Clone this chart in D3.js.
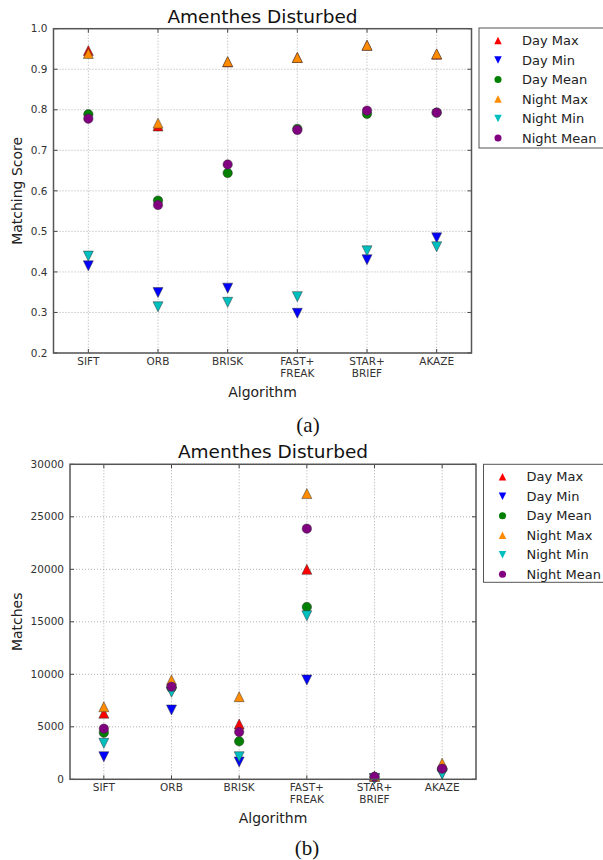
<!DOCTYPE html>
<html>
<head>
<meta charset="utf-8">
<script src="https://cdn.jsdelivr.net/npm/d3@7"></script>
<style>
  html, body { margin: 0; padding: 0; background: #fff; }
  svg { display: block; font-family: "DejaVu Sans", sans-serif; }
</style>
</head>
<body>
<svg id="chart" width="603" height="860"></svg>
<script>
// Feature detector / descriptor combinations
const algorithms = ["SIFT", "ORB", "BRISK", "FAST+\nFREAK", "STAR+\nBRIEF", "AKAZE"];

// Series names, in plotting order
const seriesNames = ["Day Max", "Day Min", "Day Mean", "Night Max", "Night Min", "Night Mean"];

// Panel (a): matching score
const scoreDayMax    = [0.946, 0.760, 0.918, 0.929, 0.959, 0.937];
const scoreDayMin    = [0.415, 0.349, 0.360, 0.298, 0.430, 0.484];
const scoreDayMean   = [0.789, 0.576, 0.644, 0.753, 0.790, 0.793];
const scoreNightMax  = [0.939, 0.767, 0.919, 0.929, 0.959, 0.938];
const scoreNightMin  = [0.439, 0.314, 0.325, 0.339, 0.452, 0.462];
const scoreNightMean = [0.778, 0.565, 0.665, 0.750, 0.798, 0.793];
const scoreTicks = [0.2, 0.3, 0.4, 0.5, 0.6, 0.7, 0.8, 0.9, 1.0];

// Panel (b): number of matches
const matchDayMax    = [6300, 9200, 5270, 20000, 300, 1300];
const matchDayMin    = [2150, 6600, 1650, 9460, 60, 550];
const matchDayMean   = [4440, 8700, 3620, 16410, 200, 950];
const matchNightMax  = [6910, 9460, 7870, 27210, 280, 1520];
const matchNightMin  = [3430, 8290, 2150, 15580, 80, 480];
const matchNightMean = [4820, 8820, 4500, 23870, 240, 1010];
const matchTicks = [0, 5000, 10000, 15000, 20000, 25000, 30000];

// Marker look per series
const seriesStyle = [
  { shape: "up",     color: "#ff0000" },
  { shape: "down",   color: "#0000ff" },
  { shape: "circle", color: "#007f00" },
  { shape: "up",     color: "#ff8c00" },
  { shape: "down",   color: "#00bfbf" },
  { shape: "circle", color: "#800080" }
];

const svg = d3.select("#chart");

function markerPath(shape, s) {
  const h = s / 2;
  if (shape === "up") return `M0,${-h}L${h},${h}L${-h},${h}Z`;
  if (shape === "down") return `M0,${h}L${h},${-h}L${-h},${-h}Z`;
  return d3.symbol(d3.symbolCircle, Math.PI * (s * 0.47) * (s * 0.47))();
}

function drawPanel(p) {
  const g = svg.append("g");
  const x = d3.scaleLinear().domain([-0.5, algorithms.length - 0.5]).range([p.left, p.right]);
  const y = d3.scaleLinear().domain(p.domain).range([p.bottom, p.top]);

  // dotted grid
  g.append("g").selectAll("line.gx").data(d3.range(algorithms.length)).join("line")
    .attr("x1", d => x(d)).attr("x2", d => x(d))
    .attr("y1", p.top).attr("y2", p.bottom)
    .attr("stroke", "#9a9a9a").attr("stroke-width", 0.8).attr("stroke-dasharray", "1,2");
  g.append("g").selectAll("line.gy").data(p.ticks).join("line")
    .attr("x1", p.left).attr("x2", p.right)
    .attr("y1", d => y(d)).attr("y2", d => y(d))
    .attr("stroke", "#9a9a9a").attr("stroke-width", 0.8).attr("stroke-dasharray", "1,2");

  // inward ticks on all four sides
  const tickLen = 4;
  const tk = g.append("g").attr("stroke", "#444").attr("stroke-width", 1);
  p.ticks.forEach(t => {
    tk.append("line").attr("x1", p.left).attr("x2", p.left + tickLen).attr("y1", y(t)).attr("y2", y(t));
    tk.append("line").attr("x1", p.right).attr("x2", p.right - tickLen).attr("y1", y(t)).attr("y2", y(t));
  });
  algorithms.forEach((a, i) => {
    tk.append("line").attr("x1", x(i)).attr("x2", x(i)).attr("y1", p.bottom).attr("y2", p.bottom - tickLen);
    tk.append("line").attr("x1", x(i)).attr("x2", x(i)).attr("y1", p.top).attr("y2", p.top + tickLen);
  });

  // y tick labels
  g.append("g").selectAll("text").data(p.ticks).join("text")
    .attr("x", p.left - 6).attr("y", d => y(d)).attr("dy", "0.35em")
    .attr("text-anchor", "end").attr("font-size", 10.5).attr("fill", "#333")
    .text(p.fmt);

  // x tick labels (two-line where needed)
  const xl = g.append("g").selectAll("text").data(algorithms).join("text")
    .attr("x", (d, i) => x(i)).attr("y", p.bottom + 12)
    .attr("text-anchor", "middle").attr("font-size", 10.5).attr("fill", "#333");
  xl.each(function (d) {
    const lines = d.split("\n");
    const t = d3.select(this);
    lines.forEach((ln, k) => {
      t.append("tspan").attr("x", t.attr("x")).attr("dy", k === 0 ? 0 : 12).text(ln);
    });
  });

  // series markers
  p.series.forEach((vals, si) => {
    const st = seriesStyle[si];
    g.append("g").selectAll("path").data(vals).join("path")
      .attr("transform", (d, i) => `translate(${x(i)},${y(d)})`)
      .attr("d", markerPath(st.shape, 10))
      .attr("fill", st.color).attr("stroke", "#333").attr("stroke-width", 0.5);
  });

  // frame
  g.append("rect").attr("x", p.left).attr("y", p.top)
    .attr("width", p.right - p.left).attr("height", p.bottom - p.top)
    .attr("fill", "none").attr("stroke", "#555").attr("stroke-width", 1.5);

  // title and axis labels
  g.append("text").attr("x", (p.left + p.right) / 2).attr("y", p.top - 6)
    .attr("text-anchor", "middle").attr("font-size", 18.5).attr("fill", "#111").text(p.title);
  g.append("text").attr("x", (p.left + p.right) / 2).attr("y", p.bottom + 44)
    .attr("text-anchor", "middle").attr("font-size", 14).attr("fill", "#222").text("Algorithm");
  g.append("text")
    .attr("transform", `translate(${p.ylabelX},${(p.top + p.bottom) / 2}) rotate(-90)`)
    .attr("text-anchor", "middle").attr("font-size", 14).attr("fill", "#222").text(p.ylabel);

  // legend
  const lg = g.append("g");
  lg.append("rect").attr("x", p.legX).attr("y", p.legTop)
    .attr("width", 140).attr("height", p.legBottom - p.legTop)
    .attr("fill", "#fff").attr("stroke", "#555").attr("stroke-width", 1);
  seriesNames.forEach((name, si) => {
    const st = seriesStyle[si];
    const cy = p.legTop + 12.5 + si * 19.5;
    lg.append("path").attr("transform", `translate(${p.legX + 19},${cy})`)
      .attr("d", markerPath(st.shape, 7.5)).attr("fill", st.color);
    lg.append("text").attr("x", p.legX + 43).attr("y", cy).attr("dy", "0.35em")
      .attr("font-size", 13).attr("fill", "#222").text(name);
  });

  // sub-figure caption
  svg.append("text").attr("x", p.capX).attr("y", p.capY)
    .attr("text-anchor", "middle").attr("font-family", "'Liberation Serif', 'Times New Roman', serif")
    .attr("font-size", 21).attr("fill", "#111").text(p.caption);
}

drawPanel({
  title: "Amenthes Disturbed", ylabel: "Matching Score", caption: "(a)",
  left: 53.5, right: 471.5, top: 28.7, bottom: 353,
  domain: [0.2, 1.0], ticks: scoreTicks, fmt: d3.format(".1f"),
  series: [scoreDayMax, scoreDayMin, scoreDayMean, scoreNightMax, scoreNightMin, scoreNightMean],
  ylabelX: 22, legX: 479, legTop: 28, legBottom: 148, capX: 308, capY: 432
});

drawPanel({
  title: "Amenthes Disturbed", ylabel: "Matches", caption: "(b)",
  left: 70, right: 476, top: 464.3, bottom: 779.3,
  domain: [0, 30000], ticks: matchTicks, fmt: d3.format("d"),
  series: [matchDayMax, matchDayMin, matchDayMean, matchNightMax, matchNightMin, matchNightMean],
  ylabelX: 22, legX: 483.5, legTop: 464.3, legBottom: 582.3, capX: 307, capY: 855
});
</script>
</body>
</html>
